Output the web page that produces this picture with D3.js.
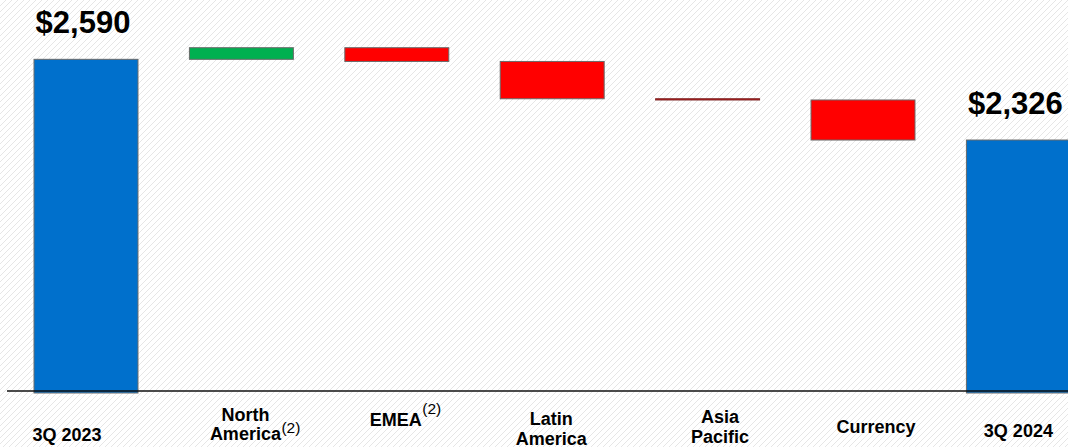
<!DOCTYPE html>
<html>
<head>
<meta charset="utf-8">
<script src="https://cdn.jsdelivr.net/npm/d3@7"></script>
<style>
  html, body { margin: 0; padding: 0; background: #fff; }
  svg { display: block; font-family: "Liberation Sans", Arial, sans-serif; }
</style>
</head>
<body>
<svg id="chart" width="1068" height="447"></svg>
<script>
// Revenue bridge, $ millions
const categories = ["3Q 2023", "North America", "EMEA", "Latin America", "Asia Pacific", "Currency", "3Q 2024"];
const startValue = 2590;
const changes = [38, -45, -122, -4, -131];   // North America, EMEA, Latin America, Asia Pacific, Currency
const endValue = 2326;
const valueLabels = ["$2,590", "$2,326"];
const tickLines = [["3Q 2023"], ["North", "America"], ["EMEA"], ["Latin", "America"], ["Asia", "Pacific"], ["Currency"], ["3Q 2024"]];
const tickNotes = ["", "(2)", "(2)", "", "", "", ""];

// build the bridge steps
const steps = [];
let running = startValue;
steps.push({ cat: categories[0], y0: 0, y1: startValue, kind: "total" });
changes.forEach((c, i) => {
  const next = running + c;
  steps.push({ cat: categories[i + 1], y0: running, y1: next, kind: c >= 0 ? "up" : "down" });
  running = next;
});
steps.push({ cat: categories[6], y0: 0, y1: endValue, kind: "total" });

const W = 1068, H = 447;
const svg = d3.select("#chart");

// diagonal hatch background
const defs = svg.append("defs");
const pat = defs.append("pattern")
  .attr("id", "hatch").attr("patternUnits", "userSpaceOnUse")
  .attr("width", 6).attr("height", 6);
pat.append("path")
  .attr("d", "M-1,1 l2,-2 M0,6 l6,-6 M5,7 l2,-2")
  .attr("stroke", "#e6e6e6").attr("stroke-width", 1);
svg.append("rect").attr("width", W).attr("height", H).attr("fill", "#fff");
svg.append("rect").attr("width", W).attr("height", H).attr("fill", "url(#hatch)");

const x = d3.scaleBand()
  .domain(categories)
  .range([8.3, 1096.1])
  .paddingInner(0.331)
  .paddingOuter(0.1655);

const yMin = 1505;
const y = d3.scaleLinear().domain([yMin, 2628]).range([391, 47.7]);

const colors = { total: "#0070CC", up: "#00B050", down: "#FF0000" };

// bars
svg.append("g").selectAll("rect")
  .data(steps)
  .join("rect")
  .attr("x", d => x(d.cat))
  .attr("width", x.bandwidth())
  .attr("y", d => d.kind === "total" ? y(d.y1) : y(Math.max(d.y0, d.y1)))
  .attr("height", d => d.kind === "total"
      ? y(yMin) - y(d.y1) + 2
      : Math.abs(y(d.y0) - y(d.y1)))
  .attr("fill", d => colors[d.kind])
  .attr("stroke", d => d.kind === "down" && Math.abs(d.y1 - d.y0) < 10 ? "#7a2424" : "#6a6a6a")
  .attr("stroke-width", 1);

// baseline
svg.append("line")
  .attr("x1", 7).attr("x2", W)
  .attr("y1", y(yMin)).attr("y2", y(yMin))
  .attr("stroke", "#111").attr("stroke-width", 1.4);

// total value labels
const totals = steps.filter(d => d.kind === "total");
svg.append("g").selectAll("text")
  .data(totals)
  .join("text")
  .attr("x", d => x(d.cat) + x.bandwidth() / 2 - 3)
  .attr("y", d => y(d.y1) - 26)
  .attr("text-anchor", "middle")
  .attr("font-size", 31)
  .attr("font-weight", "bold")
  .attr("fill", "#000")
  .text((d, i) => valueLabels[i]);

// category labels
const labelDx = [-19, 4, -1, -1, 12.5, 13, 0];
const labelBase = [440.7, 420.7, 425.7, 425, 423.3, 433.3, 437.3];
const noteDy = [0, -7, -12, 0, 0, 0, 0];
const lineGap = 19.5;

const lab = svg.append("g");
categories.forEach((c, i) => {
  const cx = x(c) + x.bandwidth() / 2 + labelDx[i];
  let lastText = null;
  tickLines[i].forEach((ln, j) => {
    lastText = lab.append("text")
      .attr("x", cx)
      .attr("y", labelBase[i] + j * lineGap)
      .attr("text-anchor", "middle")
      .attr("font-size", 18)
      .attr("font-weight", "bold")
      .attr("fill", "#000")
      .text(ln);
  });
  if (tickNotes[i]) {
    const len = lastText.node().getComputedTextLength();
    const lastY = +lastText.attr("y");
    lab.append("text")
      .attr("x", cx + len / 2 + 0.5)
      .attr("y", lastY + noteDy[i])
      .attr("font-size", 15.5)
      .attr("fill", "#000")
      .text(tickNotes[i]);
  }
});
</script>
</body>
</html>
